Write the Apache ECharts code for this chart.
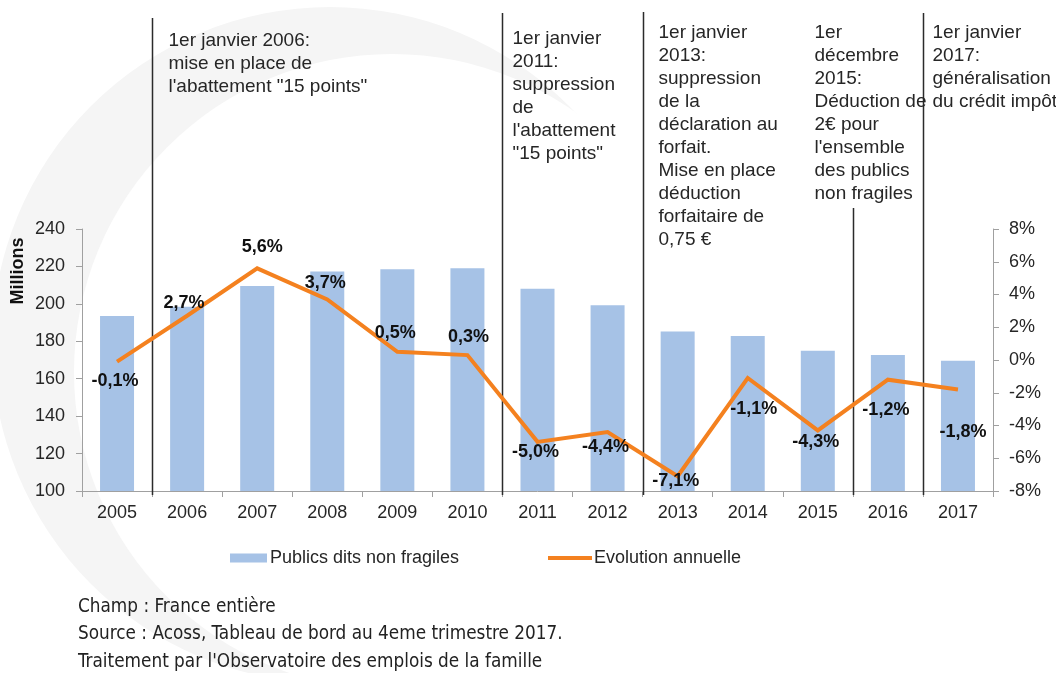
<!DOCTYPE html>
<html>
<head>
<meta charset="utf-8">
<title>Publics dits non fragiles</title>
<script src="https://cdn.jsdelivr.net/npm/echarts@6/dist/echarts.min.js"></script>
<style>
  html, body { margin: 0; padding: 0; background: #ffffff; }
  #chart { width: 1056px; height: 673px; }
</style>
</head>
<body>
<div id="chart"></div>
<script>
// Years on the category axis
const years = ['2005', '2006', '2007', '2008', '2009', '2010', '2011', '2012', '2013', '2014', '2015', '2016', '2017'];

// Volume (millions) for the "publics dits non fragiles"
const publicsNonFragiles = [193.5, 198.5, 209.5, 217.3, 218.5, 219.0, 208.1, 199.2, 185.2, 182.8, 175.0, 172.7, 169.6];

// Year-on-year change, in percent
const evolutionAnnuelle = [-0.1, 2.7, 5.6, 3.7, 0.5, 0.3, -5.0, -4.4, -7.1, -1.1, -4.3, -1.2, -1.8];

// Axis ranges
const leftAxisRange = [100, 240];
const leftAxisStep = 20;
const rightAxisRange = [-8, 8];
const rightAxisStep = 2;

// Policy milestones: the first year affected and the note text
const milestoneYears = ['2006', '2011', '2013', '2016', '2017'];
const milestoneNotes = [
  ['1er janvier 2006:', 'mise en place de', "l'abattement \"15 points\""],
  ['1er janvier', '2011:', 'suppression', 'de', "l'abattement", '"15 points"'],
  ['1er janvier', '2013:', 'suppression', 'de la', 'déclaration au', 'forfait.', 'Mise en place', 'déduction', 'forfaitaire de', '0,75 €'],
  ['1er', 'décembre', '2015:', 'Déduction de', '2€ pour', "l'ensemble", 'des publics', 'non fragiles'],
  ['1er janvier', '2017:', 'généralisation', 'du crédit impôt']
];

const footnotes = [
  'Champ : France entière',
  'Source : Acoss, Tableau de bord au 4eme trimestre 2017.',
  "Traitement par l'Observatoire des emplois de la famille"
];

// ---- presentation ----
const FONT = "'Liberation Sans', Arial, sans-serif";
const BAR_COLOR = '#a6c2e6';
const LINE_COLOR = '#f4811f';
const AXIS_COLOR = '#a0a0a0';
const TEXT_COLOR = '#262626';

// Where each percentage label sits relative to its point (dx, dy)
const labelShift = [[-2, 19], [-3, -13], [5, -21], [-2, -16], [-2, -19], [1, -18],
                    [-2, 10], [-2, 15], [-2, 5], [6, 31], [-2, 12], [-2, 30], [5, 43]];

// Note layout: start of the vertical rule, note offset from the rule, top of the note
const noteLayout = [
  { ruleTop: 18, dx: 16, top: 29 },
  { ruleTop: 13, dx: 10, top: 27 },
  { ruleTop: 12, dx: 15, top: 21 },
  { ruleTop: 208, dx: -39, top: 21 },
  { ruleTop: 13, dx: 9, top: 21 }
];

const fmtPct = v => v.toFixed(1).replace('.', ',') + '%';

const chart = echarts.init(document.getElementById('chart'), null, { renderer: 'canvas' });

const option = {
  animation: false,
  backgroundColor: '#ffffff',
  textStyle: { fontFamily: FONT },
  grid: { left: 82, right: 63, top: 229, bottom: 182, containLabel: false },
  legend: [
    {
      data: [{ name: 'Publics dits non fragiles', icon: 'rect' }],
      left: 225, top: 544,
      itemWidth: 37, itemHeight: 9, itemGap: 8,
      textStyle: { fontFamily: FONT, fontSize: 18, color: TEXT_COLOR, padding: [0, 0, 0, -2] }
    },
    {
      data: [{
        name: 'Evolution annuelle',
        icon: 'path://M0,0 L44,0 L44,4 L0,4 Z',
        itemStyle: { color: LINE_COLOR, opacity: 1 }
      }],
      left: 543, top: 544,
      itemWidth: 44, itemHeight: 9, itemGap: 8,
      textStyle: { fontFamily: FONT, fontSize: 18, color: TEXT_COLOR, padding: [0, 0, 0, -3] }
    }
  ],
  xAxis: {
    type: 'category',
    data: years,
    boundaryGap: true,
    axisLine: { show: true, onZero: false, lineStyle: { color: AXIS_COLOR, width: 1 } },
    axisTick: { show: true, length: 6, lineStyle: { color: AXIS_COLOR } },
    axisLabel: { fontFamily: FONT, fontSize: 18, color: TEXT_COLOR, margin: 13 },
    splitLine: { show: false }
  },
  yAxis: [
    {
      type: 'value',
      min: leftAxisRange[0], max: leftAxisRange[1], interval: leftAxisStep,
      position: 'left',
      axisLine: { show: true, lineStyle: { color: AXIS_COLOR, width: 1 } },
      axisTick: { show: true, length: 6, lineStyle: { color: AXIS_COLOR } },
      axisLabel: { fontFamily: FONT, fontSize: 18, color: TEXT_COLOR, margin: 17 },
      splitLine: { show: false }
    },
    {
      type: 'value',
      min: rightAxisRange[0], max: rightAxisRange[1], interval: rightAxisStep,
      position: 'right',
      axisLine: { show: true, lineStyle: { color: AXIS_COLOR, width: 1 } },
      axisTick: { show: true, length: 6, lineStyle: { color: AXIS_COLOR } },
      axisLabel: { fontFamily: FONT, fontSize: 18, color: TEXT_COLOR, margin: 16, formatter: '{value}%' },
      splitLine: { show: false }
    }
  ],
  series: [
    {
      name: 'Publics dits non fragiles',
      type: 'bar',
      yAxisIndex: 0,
      data: publicsNonFragiles,
      barWidth: 34,
      itemStyle: { color: BAR_COLOR },
      z: 2
    },
    {
      name: 'Evolution annuelle',
      type: 'line',
      yAxisIndex: 1,
      data: evolutionAnnuelle,
      showSymbol: false,
      symbol: 'none',
      lineStyle: { color: LINE_COLOR, width: 4, join: 'miter' },
      itemStyle: { color: LINE_COLOR },
      z: 4
    }
  ]
};

chart.setOption(option);

// Faint backdrop swoosh, vertical milestone rules, notes and value labels
function drawAnnotations() {
  const elements = [];
  const axisBottom = chart.convertToPixel({ yAxisIndex: 0 }, leftAxisRange[0]);

  // light grey crescent behind the chart
  elements.push({
    type: 'group',
    z: -10,
    silent: true,
    children: [
      { type: 'circle', shape: { cx: 330, cy: 345, r: 338 }, style: { fill: '#f5f5f5' }, z: -10 },
      { type: 'circle', shape: { cx: 392, cy: 372, r: 318 }, style: { fill: '#ffffff' }, z: -9 }
    ]
  });

  milestoneYears.forEach((yr, k) => {
    const idx = years.indexOf(yr);
    const cur = chart.convertToPixel({ xAxisIndex: 0 }, idx);
    const prev = chart.convertToPixel({ xAxisIndex: 0 }, idx - 1);
    const x = Math.round((cur + prev) / 2) + 0.5;
    const lay = noteLayout[k];

    elements.push({
      type: 'line',
      z: 1,
      shape: { x1: x, y1: lay.ruleTop, x2: x, y2: axisBottom + 4 },
      style: { stroke: '#2b2b2b', lineWidth: 1.5 }
    });
    elements.push({
      type: 'text',
      z: 5,
      x: x + lay.dx,
      y: lay.top,
      style: {
        text: milestoneNotes[k].join('\n'),
        fontFamily: FONT,
        fontSize: 19,
        lineHeight: 23,
        fill: TEXT_COLOR,
        align: 'left',
        verticalAlign: 'top'
      }
    });
  });

  // Percentage labels next to each point of the yearly change line
  evolutionAnnuelle.forEach((v, i) => {
    const pt = chart.convertToPixel({ seriesIndex: 1 }, [i, v]);
    elements.push({
      type: 'text',
      z: 10,
      x: pt[0] + labelShift[i][0],
      y: pt[1] + labelShift[i][1],
      style: {
        text: fmtPct(v),
        fontFamily: FONT,
        fontSize: 18,
        fontWeight: 'bold',
        fill: '#111111',
        align: 'center',
        verticalAlign: 'middle'
      }
    });
  });

  // Axis unit, rotated
  elements.push({
    type: 'text',
    x: 18.5,
    y: 271,
    rotation: Math.PI / 2,
    style: {
      text: 'Millions',
      fontFamily: FONT,
      fontSize: 18,
      fontWeight: 'bold',
      fill: '#111111',
      align: 'center',
      verticalAlign: 'middle'
    }
  });

  // Field and source notes
  footnotes.forEach((t, i) => {
    elements.push({
      type: 'text',
      x: 78,
      y: 607 + i * 27.5,
      style: {
        text: t,
        fontFamily: "'Liberation Sans Narrow', 'DejaVu Sans Condensed', sans-serif",
        fontSize: 18.8,
        fill: '#222222',
        align: 'left',
        verticalAlign: 'middle'
      }
    });
  });

  chart.setOption({ graphic: { elements } });
}

drawAnnotations();
</script>
</body>
</html>
